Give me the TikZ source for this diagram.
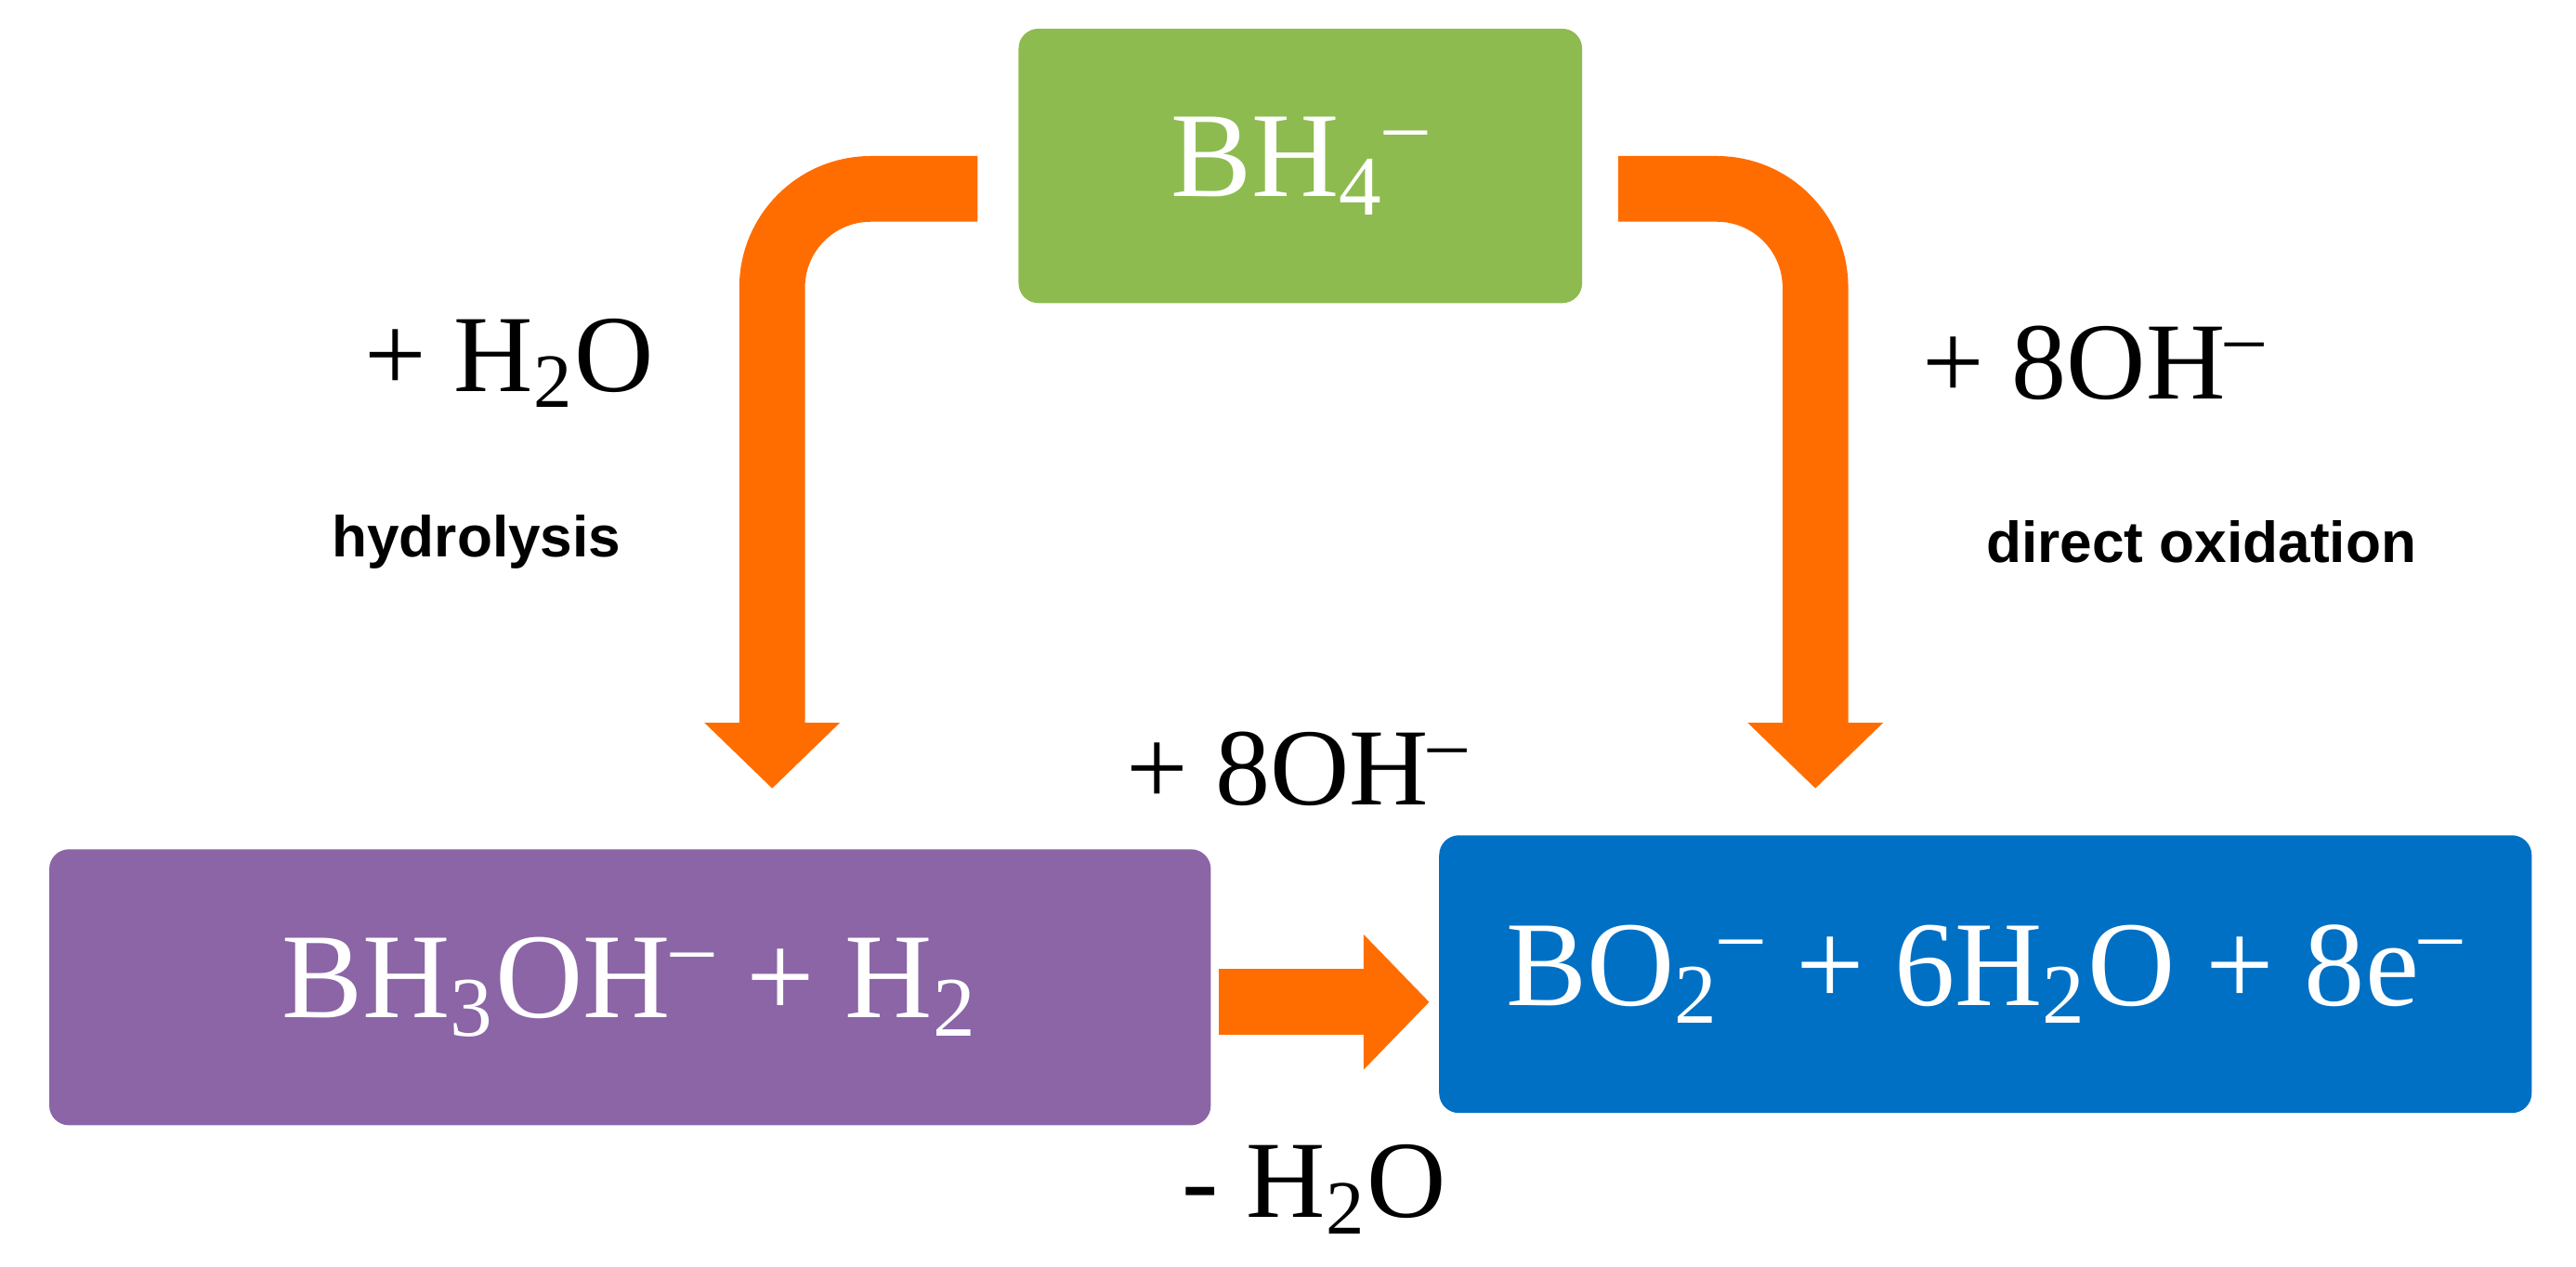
\documentclass[tikz,border=0pt]{standalone}
\usepackage{fontspec}
\setmainfont{Liberation Serif}
\setsansfont{Liberation Sans}
\usetikzlibrary{arrows.meta}
\newcommand{\sub}[1]{\textsubscript{#1}}
\newcommand{\minus}{\textsuperscript{–}}
\begin{document}
\begin{tikzpicture}
\useasboundingbox (0,0) rectangle (15.68,7.71);
\tikzset{
  box/.style={rounded corners=0.12cm, text=white, font=\fontsize{21}{24}\selectfont, inner sep=0pt},
  flow/.style={draw=orange1, line width=0.4cm, rounded corners=0.6cm, -{Triangle[width=0.8cm,length=0.4cm]}},
  lab/.style={font=\fontsize{19}{22}\selectfont},
  small/.style={font=\sffamily\bfseries\fontsize{10}{12}\selectfont}
}
\definecolor{orange1}{HTML}{FF6D00}
\definecolor{gbox}{HTML}{8DBB50}
\definecolor{pbox}{HTML}{8B65A6}
\definecolor{bbox}{HTML}{0070C4}
\node[box, fill=gbox, minimum width=3.43cm, minimum height=1.67cm] (bh4) at (7.915,6.7) {BH\sub{4}\minus};
\node[box, fill=pbox, minimum width=7.07cm, minimum height=1.68cm] (bh3) at (3.835,1.7) {BH\sub{3}OH\minus{} + H\sub{2}};
\node[box, fill=bbox, minimum width=6.65cm, minimum height=1.69cm] (bo2) at (12.085,1.78) {BO\sub{2}\minus{} + 6H\sub{2}O + 8e\minus};
\coordinate (l0) at (5.95,6.56);
\coordinate (l1) at (4.70,6.56);
\coordinate (l2) at (4.70,2.91);
\coordinate (r0) at (9.85,6.56);
\coordinate (r1) at (11.05,6.56);
\coordinate (r2) at (11.05,2.91);
\coordinate (m0) at (7.42,1.61);
\coordinate (m1) at (8.70,1.61);
\draw[flow] (l0) -- (l1) -- (l2);
\draw[flow] (r0) -- (r1) -- (r2);
\draw[flow] (m0) -- (m1);
\node[lab] (t1) at (3.10,5.50) {+ H\sub{2}O};
\node[small] (t2) at (2.90,4.41) {hydrolysis};
\node[lab] (t3) at (12.75,5.50) {+ 8OH\minus};
\node[small] (t4) at (13.40,4.41) {direct oxidation};
\node[lab] (t5) at (7.90,3.03) {+ 8OH\minus};
\node[lab] (t6) at (8.00,0.47) {- H\sub{2}O};
\end{tikzpicture}
\end{document}
